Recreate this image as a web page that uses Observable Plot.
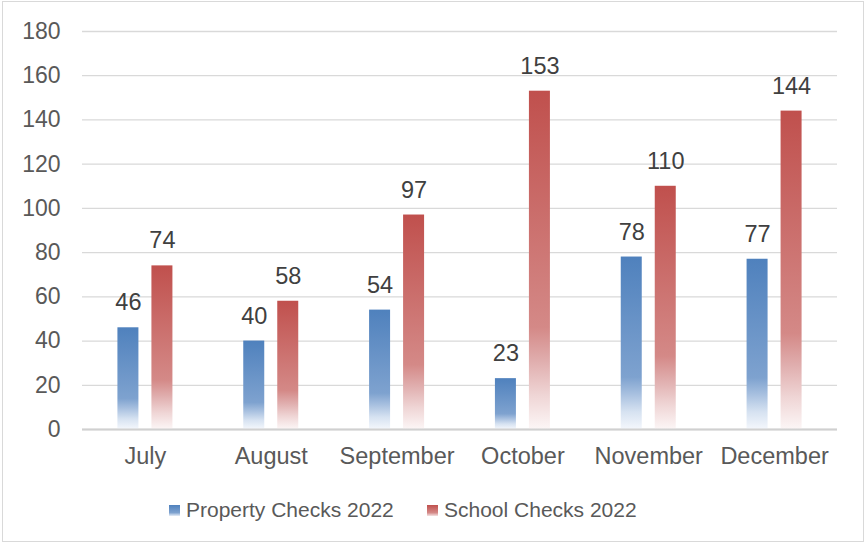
<!DOCTYPE html>
<html>
<head>
<meta charset="utf-8">
<script src="https://cdn.jsdelivr.net/npm/d3@7"></script>
<script src="https://cdn.jsdelivr.net/npm/@observablehq/plot@0.6"></script>
<style>
  html, body { margin: 0; padding: 0; background: #fff; }
  #frame {
    position: absolute; left: 2px; top: 1px; width: 862px; height: 541px;
    border: 1px solid #d9d9d9; background: #fff; box-sizing: border-box;
    font-family: "Liberation Sans", Arial, sans-serif; color: #595959;
  }
  #chart { position: absolute; left: 1px; top: 2px; }
  #legend { position: absolute; top: 494px; left: 0; width: 100%; height: 28px; font-size: 21px; color: #595959; }
  .item { position: absolute; top: 0; display: flex; align-items: center; height: 28px; }
  .sw { width: 11px; height: 11px; margin-right: 6px; }
</style>
</head>
<body>
<div id="frame">
  <div id="chart"></div>
  <div id="legend"></div>
</div>
<script>
const months = ["July", "August", "September", "October", "November", "December"];
const seriesNames = ["Property Checks 2022", "School Checks 2022"];
const propertyChecks = [46, 40, 54, 23, 78, 77];
const schoolChecks = [74, 58, 97, 153, 110, 144];
const yTicks = [0, 20, 40, 60, 80, 100, 120, 140, 160, 180];

const propData = months.map((m, i) => ({month: m, value: propertyChecks[i]}));
const schoolData = months.map((m, i) => ({month: m, value: schoolChecks[i]}));

const W = 858, H = 470;
const mL = 78, mR = 25;
const step = (W - mL - mR) / months.length;
const half = step / 2;

const plot = Plot.plot({
  width: W, height: H,
  marginLeft: mL, marginRight: mR, marginTop: 27, marginBottom: 45,
  style: {fontFamily: "Liberation Sans, Arial, sans-serif", fontSize: "23px", color: "#595959", background: "transparent"},
  x: {domain: months, padding: 0, round: false, label: null},
  y: {domain: [0, 180], label: null},
  marks: [
    Plot.gridY(yTicks, {stroke: "#d9d9d9", strokeOpacity: 1, strokeWidth: 1.3}),
    Plot.axisY(yTicks, {tickSize: 0, tickPadding: 22, fontSize: 23, fill: "#595959", label: null}),
    Plot.axisX({tickSize: 0, tickPadding: 18, fontSize: 23.5, fill: "#595959", label: null}),
    Plot.barY(propData, {x: "month", y: "value", fill: "url(#gBlue)", insetLeft: half - 27.5, insetRight: half + 6.5}),
    Plot.barY(schoolData, {x: "month", y: "value", fill: "url(#gRed)", insetLeft: half + 6.5, insetRight: half - 27.5}),
    Plot.ruleY([0], {stroke: "#d0d0d0", strokeWidth: 2}),
    Plot.text(propData, {x: "month", y: "value", text: d => String(d.value), dx: -17, dy: -25, fontSize: 23.5, fill: "#404040"}),
    Plot.text(schoolData, {x: "month", y: "value", text: d => String(d.value), dx: 17, dy: -25, fontSize: 23.5, fill: "#404040"})
  ]
});

const defs = d3.select(plot).insert("defs", ":first-child");
function addGrad(id, stops) {
  const g = defs.append("linearGradient").attr("id", id)
    .attr("x1", 0).attr("y1", 0).attr("x2", 0).attr("y2", 1);
  stops.forEach(([o, c]) => g.append("stop").attr("offset", o).attr("stop-color", c));
}
addGrad("gBlue", [[0, "#4F81BD"], [0.7, "#7ea2cf"], [0.8, "#a9c1e0"], [0.9, "#d6e2f1"], [1, "#f4f7fc"]]);
addGrad("gRed", [[0, "#C0504D"], [0.7, "#d48987"], [0.8, "#e0aeae"], [0.9, "#efd5d5"], [1, "#fcf6f6"]]);

document.getElementById("chart").appendChild(plot);

const legend = document.getElementById("legend");
const legendX = [166, 424];
const gradsCss = [
  "linear-gradient(#4F81BD, #7ea2cf 70%, #d6e2f1 95%)",
  "linear-gradient(#C0504D, #d48987 70%, #efd5d5 95%)"
];
seriesNames.forEach((name, i) => {
  const item = document.createElement("div");
  item.className = "item";
  item.style.left = legendX[i] + "px";
  const sw = document.createElement("div");
  sw.className = "sw";
  sw.style.background = gradsCss[i];
  const label = document.createElement("span");
  label.textContent = name;
  item.appendChild(sw);
  item.appendChild(label);
  legend.appendChild(item);
});
</script>
</body>
</html>
